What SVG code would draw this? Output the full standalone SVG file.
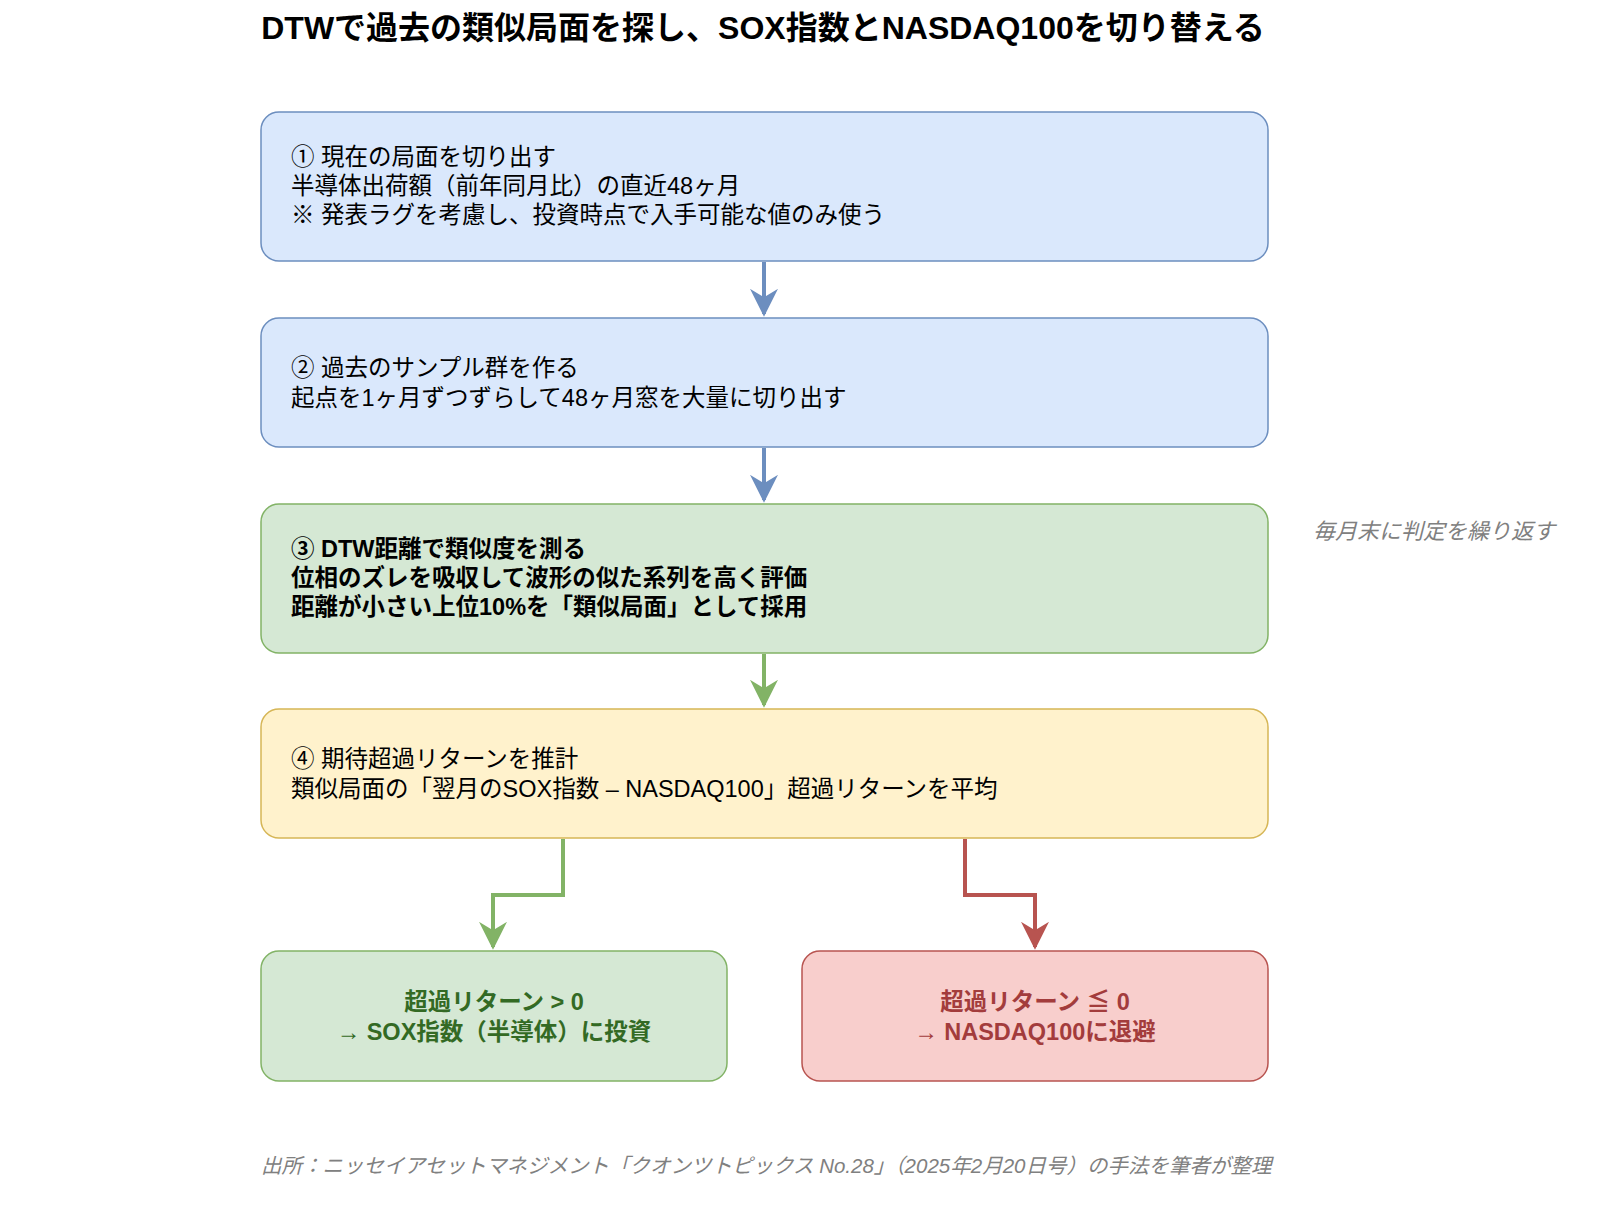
<svg xmlns="http://www.w3.org/2000/svg" width="1600" height="1220" viewBox="0 0 1600 1220">
<style>
text{font-family:"Liberation Sans","Noto Sans CJK JP",sans-serif;font-size:23.5px;fill:#000}
.title{font-size:32px;font-weight:bold}
.b{font-weight:bold}
.note{font-style:italic;fill:#808080;font-size:22px}
.foot{font-size:20.5px}
.blue{fill:#dae8fc;stroke:#6c8ebf;stroke-width:1.5}
.green{fill:#d5e8d4;stroke:#82b366;stroke-width:1.5}
.yellow{fill:#fff2cc;stroke:#d6b656;stroke-width:1.5}
.red{fill:#f8cecc;stroke:#b85450;stroke-width:1.5}
.c{fill:none;stroke-width:4}
</style>
<defs>
<marker id="ab" viewBox="0 0 10 10" refX="9" refY="5" markerWidth="7" markerHeight="7" orient="auto" markerUnits="strokeWidth"><path d="M0,0L10,5L0,10L3,5z" fill="#6c8ebf"/></marker>
<marker id="ag" viewBox="0 0 10 10" refX="9" refY="5" markerWidth="7" markerHeight="7" orient="auto" markerUnits="strokeWidth"><path d="M0,0L10,5L0,10L3,5z" fill="#82b366"/></marker>
<marker id="ar" viewBox="0 0 10 10" refX="9" refY="5" markerWidth="7" markerHeight="7" orient="auto" markerUnits="strokeWidth"><path d="M0,0L10,5L0,10L3,5z" fill="#b85450"/></marker>
</defs>
<text class="title" x="763" y="39" text-anchor="middle">DTWで過去の類似局面を探し、SOX指数とNASDAQ100を切り替える</text>
<g id="connectors">
<path class="c" stroke="#6c8ebf" d="M764,262V314" marker-end="url(#ab)"/>
<path class="c" stroke="#6c8ebf" d="M764,448V500" marker-end="url(#ab)"/>
<path class="c" stroke="#82b366" d="M764,654V705" marker-end="url(#ag)"/>
<path class="c" stroke="#82b366" d="M563,839V895H493V947" marker-end="url(#ag)"/>
<path class="c" stroke="#b85450" d="M965,839V895H1035V947" marker-end="url(#ar)"/>
</g>
<g id="n1"><rect class="blue" x="261" y="112" width="1007" height="149" rx="18"/>
<text x="291" y="165">① 現在の局面を切り出す</text><text x="291" y="194">半導体出荷額（前年同月比）の直近48ヶ月</text><text x="291" y="223">※ 発表ラグを考慮し、投資時点で入手可能な値のみ使う</text></g>
<g id="n2"><rect class="blue" x="261" y="318" width="1007" height="129" rx="18"/>
<text x="291" y="376">② 過去のサンプル群を作る</text><text x="291" y="406">起点を1ヶ月ずつずらして48ヶ月窓を大量に切り出す</text></g>
<g id="n3"><rect class="green" x="261" y="504" width="1007" height="149" rx="18"/>
<text class="b" x="291" y="557">③ DTW距離で類似度を測る</text><text class="b" x="291" y="586">位相のズレを吸収して波形の似た系列を高く評価</text><text class="b" x="291" y="615">距離が小さい上位10%を「類似局面」として採用</text></g>
<g id="n4"><rect class="yellow" x="261" y="709" width="1007" height="129" rx="18"/>
<text x="291" y="767">④ 期待超過リターンを推計</text><text x="291" y="797">類似局面の「翌月のSOX指数 – NASDAQ100」超過リターンを平均</text></g>
<g id="n5"><rect class="green" x="261" y="951" width="466" height="130" rx="18"/>
<text class="b" x="494" y="1010" text-anchor="middle" style="fill:#336a24">超過リターン &gt; 0</text><text class="b" x="494" y="1040" text-anchor="middle" style="fill:#336a24">→ SOX指数（半導体）に投資</text></g>
<g id="n6"><rect class="red" x="802" y="951" width="466" height="130" rx="18"/>
<text class="b" x="1035" y="1010" text-anchor="middle" style="fill:#a33c3c">超過リターン ≦ 0</text><text class="b" x="1035" y="1040" text-anchor="middle" style="fill:#a33c3c">→ NASDAQ100に退避</text></g>
<text class="note" x="1313" y="539">毎月末に判定を繰り返す</text>
<text class="note foot" x="261" y="1173">出所：ニッセイアセットマネジメント「クオンツトピックス No.28」（2025年2月20日号）の手法を筆者が整理</text>
</svg>
